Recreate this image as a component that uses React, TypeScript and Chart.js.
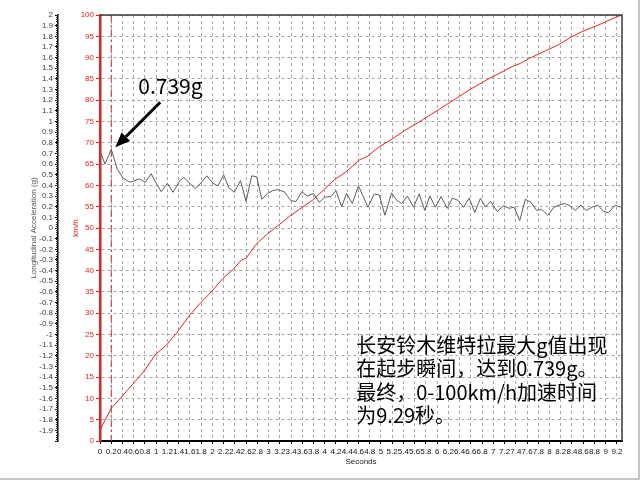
import React, { useEffect, useRef } from "react";
import { Chart, registerables } from "chart.js";

Chart.register(...registerables);

// Vehicle speed (km/h) against elapsed time (s)
const SPEED_TIME = [0, 0.09, 0.2, 0.36, 0.62, 0.8, 0.98, 1.18, 1.36, 1.6, 1.78, 1.98, 2.19, 2.37, 2.52, 2.6, 2.78, 2.96, 3.2, 3.37, 3.55, 3.79, 4.17, 4.38, 4.62, 4.77, 4.97, 5.18, 5.39, 5.74, 6.16, 6.57, 6.93, 7.34, 7.49, 7.64, 7.93, 8.17, 8.38, 8.58, 8.88, 9.18, 9.29];
const SPEED_KMH = [2.5, 4.9, 7.7, 10.0, 13.9, 16.7, 20.2, 22.5, 25.3, 29.6, 32.3, 35.0, 38.2, 40.3, 42.5, 42.9, 46.2, 48.4, 50.9, 52.7, 54.4, 56.6, 61.3, 63.2, 66.0, 66.9, 69.1, 70.7, 72.6, 75.4, 78.9, 82.4, 85.1, 87.9, 88.7, 89.8, 91.6, 93.1, 94.8, 96.1, 97.7, 99.5, 100];

// Longitudinal acceleration (g) against elapsed time (s)
const ACCEL_TIME = [0, 0.09, 0.2, 0.31, 0.41, 0.53, 0.62, 0.7, 0.81, 0.91, 1.0, 1.09, 1.2, 1.3, 1.42, 1.49, 1.59, 1.69, 1.8, 1.9, 2.01, 2.1, 2.2, 2.29, 2.39, 2.5, 2.6, 2.7, 2.79, 2.88, 2.98, 3.07, 3.16, 3.28, 3.4, 3.49, 3.59, 3.69, 3.8, 3.9, 4.0, 4.11, 4.2, 4.3, 4.39, 4.49, 4.6, 4.77, 4.88, 4.97, 5.07, 5.19, 5.28, 5.37, 5.47, 5.58, 5.68, 5.78, 5.87, 5.97, 6.07, 6.18, 6.27, 6.37, 6.47, 6.57, 6.67, 6.77, 6.86, 6.95, 7.07, 7.18, 7.28, 7.37, 7.47, 7.57, 7.67, 7.77, 7.86, 7.97, 8.08, 8.17, 8.27, 8.36, 8.46, 8.56, 8.65, 8.76, 8.86, 8.96, 9.05, 9.17, 9.26];
const ACCEL_G = [0.72, 0.6, 0.739, 0.55, 0.47, 0.43, 0.445, 0.46, 0.43, 0.51, 0.42, 0.34, 0.42, 0.335, 0.445, 0.475, 0.425, 0.37, 0.425, 0.49, 0.42, 0.395, 0.5, 0.38, 0.335, 0.445, 0.25, 0.49, 0.48, 0.27, 0.325, 0.35, 0.36, 0.34, 0.255, 0.25, 0.34, 0.3, 0.325, 0.24, 0.29, 0.295, 0.35, 0.2, 0.325, 0.23, 0.395, 0.195, 0.32, 0.31, 0.12, 0.33, 0.26, 0.23, 0.3, 0.195, 0.32, 0.165, 0.3, 0.195, 0.295, 0.185, 0.28, 0.26, 0.195, 0.28, 0.145, 0.28, 0.195, 0.25, 0.155, 0.21, 0.185, 0.195, 0.07, 0.27, 0.24, 0.165, 0.175, 0.12, 0.195, 0.215, 0.23, 0.21, 0.165, 0.215, 0.165, 0.195, 0.215, 0.155, 0.145, 0.215, 0.195];

// Peak acceleration marker
const PEAK_TIME = 0.2;
const PEAK_G = 0.739;
const PEAK_LABEL = "0.739g";

// Axis ranges and titles
const TIME_MAX = 9.29;
const TIME_STEP = 0.2;
const SPEED_MIN = 0;
const SPEED_MAX = 100;
const SPEED_STEP = 5;
const G_MIN = -2;
const G_MAX = 2;
const G_STEP = 0.1;
const X_TITLE = "Seconds";
const SPEED_TITLE = "km/h";
const G_TITLE = "Longitudinal Acceleration (g)";

// Caption text and where it sits (seconds, km/h)
const NOTE_LINES = [
  "长安铃木维特拉最大g值出现",
  "在起步瞬间，达到0.739g。",
  "最终，0-100km/h加速时间",
  "为9.29秒。",
];
const NOTE_AT_TIME = 4.56;
const NOTE_AT_SPEED = 22.5;

const RED = "#e02424";
const GRID = "#a6a6a6";

const fmt = (v: number | string) => String(Math.round(Number(v) * 10) / 10);

const overlayPlugin = {
  id: "overlay",
  beforeDatasetsDraw(chart: any) {
    const { ctx, chartArea, scales } = chart;
    const x = scales.x.getPixelForValue(PEAK_TIME);
    ctx.save();
    ctx.strokeStyle = "#cc2a2a";
    ctx.lineWidth = 1;
    ctx.setLineDash([7, 3, 2, 3]);
    ctx.beginPath();
    ctx.moveTo(x, chartArea.top);
    ctx.lineTo(x, chartArea.bottom);
    ctx.stroke();
    ctx.restore();
  },
  afterDraw(chart: any) {
    const { ctx, chartArea, scales } = chart;
    ctx.save();
    // frame of the plotting area (top and right)
    ctx.strokeStyle = "#3a3a3a";
    ctx.lineWidth = 1.5;
    ctx.beginPath();
    ctx.moveTo(chartArea.left, chartArea.top);
    ctx.lineTo(chartArea.right, chartArea.top);
    ctx.lineTo(chartArea.right, chartArea.bottom);
    ctx.stroke();

    // minor ticks on the acceleration axis
    const gScale = scales.yAcc;
    const axisX = gScale.right;
    ctx.strokeStyle = "#222";
    ctx.lineWidth = 1;
    for (let i = G_MIN * 50; i <= G_MAX * 50; i++) {
      const y = Math.round(gScale.getPixelForValue(i / 50)) + 0.5;
      ctx.beginPath();
      ctx.moveTo(axisX, y);
      ctx.lineTo(axisX - 2, y);
      ctx.stroke();
    }

    // arrow pointing at the peak
    const px = scales.x.getPixelForValue(PEAK_TIME);
    const py = gScale.getPixelForValue(PEAK_G);
    const tipX = px + 4;
    const tipY = py - 2;
    const tailX = px + 49;
    const tailY = py - 47;
    const ang = Math.atan2(tipY - tailY, tipX - tailX);
    const headLen = 15;
    const headHalf = 6;
    const baseX = tipX - headLen * Math.cos(ang);
    const baseY = tipY - headLen * Math.sin(ang);
    ctx.strokeStyle = "#000";
    ctx.fillStyle = "#000";
    ctx.lineWidth = 3;
    ctx.beginPath();
    ctx.moveTo(tailX, tailY);
    ctx.lineTo(baseX, baseY);
    ctx.stroke();
    ctx.beginPath();
    ctx.moveTo(tipX, tipY);
    ctx.lineTo(baseX + headHalf * Math.sin(ang), baseY - headHalf * Math.cos(ang));
    ctx.lineTo(baseX - headHalf * Math.sin(ang), baseY + headHalf * Math.cos(ang));
    ctx.closePath();
    ctx.fill();

    ctx.font = "21px 'Noto Sans CJK SC', 'Liberation Sans', sans-serif";
    ctx.textAlign = "left";
    ctx.textBaseline = "alphabetic";
    ctx.fillText(PEAK_LABEL, px + 27, py - 55);

    // caption
    ctx.font = "20px 'Noto Sans CJK SC', sans-serif";
    ctx.textBaseline = "middle";
    const nx = scales.x.getPixelForValue(NOTE_AT_TIME);
    const ny = scales.ySpeed.getPixelForValue(NOTE_AT_SPEED);
    NOTE_LINES.forEach((line, i) => {
      ctx.fillText(line, nx, ny + i * 23.5);
    });
    ctx.restore();
  },
};

export default function App() {
  const canvasRef = useRef<HTMLCanvasElement | null>(null);

  useEffect(() => {
    if (!canvasRef.current) return;
    Chart.defaults.font.family = "'Liberation Sans', Arial, sans-serif";
    Chart.defaults.font.size = 8;

    const chart = new Chart(canvasRef.current, {
      type: "line",
      data: {
        datasets: [
          {
            label: "Acceleration",
            yAxisID: "yAcc",
            data: ACCEL_TIME.map((t, i) => ({ x: t, y: ACCEL_G[i] })),
            borderColor: "#5c5c5c",
            borderWidth: 1,
            pointRadius: 0,
            tension: 0,
          },
          {
            label: "Speed",
            yAxisID: "ySpeed",
            data: SPEED_TIME.map((t, i) => ({ x: t, y: SPEED_KMH[i] })),
            borderColor: RED,
            borderWidth: 1,
            pointRadius: 0,
            tension: 0,
          },
        ],
      },
      options: {
        animation: false,
        responsive: true,
        maintainAspectRatio: false,
        layout: { padding: { left: 27, top: 15, right: 16, bottom: 9 } },
        plugins: {
          legend: { display: false },
          tooltip: { enabled: false },
        },
        scales: {
          x: {
            type: "linear",
            min: 0,
            max: TIME_MAX,
            afterFit: (s: any) => {
              s.height = 28;
            },
            ticks: {
              stepSize: TIME_STEP,
              includeBounds: false,
              autoSkip: false,
              maxRotation: 0,
              minRotation: 0,
              color: "#111",
              padding: 3,
              callback: (v: any) => fmt(v),
            },
            grid: { color: GRID, tickLength: 3, tickColor: "#000" },
            border: { display: true, color: "#000", width: 2, dash: [3, 3] },
            title: {
              display: true,
              text: X_TITLE,
              color: "#222",
              padding: { top: 0, bottom: 2 },
            },
          },
          ySpeed: {
            type: "linear",
            position: "left",
            weight: 0,
            min: SPEED_MIN,
            max: SPEED_MAX,
            afterFit: (s: any) => {
              s.width = 42;
            },
            ticks: {
              stepSize: SPEED_STEP,
              autoSkip: false,
              color: RED,
              padding: 2,
              callback: (v: any) => fmt(v),
            },
            grid: { color: GRID, tickLength: 4, tickColor: RED },
            border: { display: true, color: RED, width: 2.5, dash: [3, 3] },
            title: {
              display: true,
              text: SPEED_TITLE,
              color: RED,
              padding: { top: 13, bottom: 0 },
            },
          },
          yAcc: {
            type: "linear",
            position: "left",
            weight: 1,
            min: G_MIN,
            max: G_MAX,
            afterFit: (s: any) => {
              s.width = 31;
            },
            ticks: {
              stepSize: G_STEP,
              autoSkip: false,
              color: "#3c3c3c",
              padding: 2,
              callback: (v: any) => (Number(v) <= G_MIN + 0.05 ? "" : fmt(v)),
            },
            grid: { drawOnChartArea: false, tickLength: 3, tickColor: "#000", color: "#000" },
            border: { display: true, color: "#000", width: 1.5 },
            title: {
              display: true,
              text: G_TITLE,
              color: "#555",
              padding: { top: 2, bottom: 0 },
            },
          },
        },
      },
      plugins: [overlayPlugin],
    });

    return () => chart.destroy();
  }, []);

  return (
    <div
      style={{
        position: "absolute",
        left: 0,
        top: 0,
        width: 638,
        height: 478,
        background: "#fff",
        borderRight: "2px solid #c6c6c6",
        borderBottom: "2px solid #c6c6c6",
      }}
    >
      <div style={{ position: "relative", width: 638, height: 478 }}>
        <canvas ref={canvasRef} />
      </div>
    </div>
  );
}
